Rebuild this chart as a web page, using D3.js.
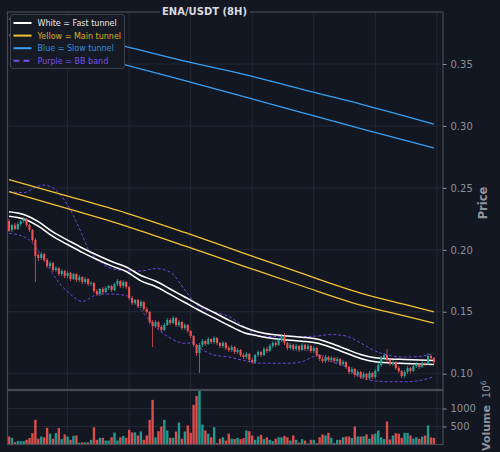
<!DOCTYPE html>
<html><head><meta charset="utf-8">
<script src="https://cdn.jsdelivr.net/npm/d3@7"></script>
<style>html,body{margin:0;padding:0;background:#131722;}svg{display:block;font-family:"DejaVu Sans",sans-serif;}</style>
</head><body><svg id="c" width="500" height="452"></svg>
<script>
// ---- data (ENA/USDT 8H candles, price in USDT, volume in millions) ----
const opens=[0.2232,0.2160,0.2200,0.2168,0.2208,0.2232,0.2249,0.2200,0.2160,0.2079,
0.1958,0.1934,0.1966,0.1918,0.1869,0.1893,0.1837,0.1853,0.1805,0.1829,
0.1789,0.1813,0.1764,0.1805,0.1756,0.1780,0.1740,0.1764,0.1724,0.1732,
0.1667,0.1643,0.1684,0.1659,0.1692,0.1708,0.1676,0.1724,0.1748,0.1708,
0.1740,0.1700,0.1611,0.1571,0.1595,0.1546,0.1579,0.1522,0.1498,0.1417,
0.1385,0.1417,0.1377,0.1353,0.1393,0.1433,0.1409,0.1450,0.1393,0.1417,
0.1369,0.1393,0.1345,0.1304,0.1232,0.1167,0.1232,0.1264,0.1240,0.1280,
0.1256,0.1288,0.1248,0.1224,0.1248,0.1207,0.1191,0.1215,0.1175,0.1191,
0.1151,0.1135,0.1159,0.1111,0.1094,0.1151,0.1175,0.1151,0.1199,0.1183,
0.1224,0.1248,0.1232,0.1272,0.1304,0.1248,0.1207,0.1232,0.1199,0.1224,
0.1191,0.1232,0.1199,0.1224,0.1183,0.1207,0.1151,0.1119,0.1102,0.1135,
0.1111,0.1127,0.1102,0.1119,0.1078,0.1094,0.1054,0.1014,0.1038,0.0990,
0.1014,0.0973,0.0998,0.0965,0.1006,0.0973,0.1022,0.1070,0.1127,0.1151,
0.1111,0.1078,0.1094,0.1046,0.1022,0.0981,0.1014,0.1046,0.1022,0.1062,
0.1078,0.1054,0.1086,0.1078,0.1143,0.1127];
const highs=[0.2249,0.2208,0.2216,0.2224,0.2241,0.2265,0.2257,0.2208,0.2168,0.2095,
0.1974,0.1982,0.1974,0.1934,0.1910,0.1902,0.1869,0.1861,0.1845,0.1837,
0.1829,0.1821,0.1813,0.1813,0.1797,0.1789,0.1780,0.1772,0.1748,0.1740,
0.1684,0.1692,0.1700,0.1708,0.1716,0.1716,0.1732,0.1764,0.1756,0.1756,
0.1748,0.1708,0.1627,0.1603,0.1603,0.1595,0.1587,0.1538,0.1506,0.1433,
0.1433,0.1425,0.1393,0.1409,0.1450,0.1450,0.1466,0.1458,0.1433,0.1425,
0.1409,0.1401,0.1353,0.1312,0.1240,0.1248,0.1280,0.1272,0.1296,0.1288,
0.1304,0.1296,0.1256,0.1264,0.1256,0.1224,0.1232,0.1224,0.1207,0.1199,
0.1167,0.1175,0.1167,0.1127,0.1159,0.1191,0.1183,0.1215,0.1215,0.1240,
0.1264,0.1264,0.1288,0.1320,0.1328,0.1256,0.1248,0.1240,0.1240,0.1232,
0.1248,0.1240,0.1240,0.1232,0.1224,0.1215,0.1159,0.1135,0.1151,0.1143,
0.1143,0.1135,0.1135,0.1127,0.1111,0.1102,0.1062,0.1054,0.1046,0.1030,
0.1022,0.1014,0.1006,0.1022,0.1014,0.1038,0.1086,0.1143,0.1167,0.1199,
0.1127,0.1111,0.1102,0.1062,0.1030,0.1030,0.1062,0.1054,0.1078,0.1094,
0.1086,0.1102,0.1094,0.1167,0.1151,0.1135];
const lows=[0.2144,0.2144,0.2160,0.2160,0.2192,0.2216,0.2184,0.2144,0.2063,0.1740,
0.1910,0.1918,0.1902,0.1853,0.1853,0.1821,0.1821,0.1789,0.1789,0.1772,
0.1772,0.1748,0.1756,0.1740,0.1740,0.1724,0.1724,0.1708,0.1708,0.1651,
0.1627,0.1627,0.1643,0.1651,0.1676,0.1659,0.1667,0.1708,0.1692,0.1692,
0.1684,0.1595,0.1554,0.1554,0.1530,0.1530,0.1506,0.1482,0.1401,0.1215,
0.1369,0.1361,0.1337,0.1345,0.1385,0.1393,0.1401,0.1377,0.1377,0.1353,
0.1353,0.1328,0.1288,0.1215,0.1143,0.1006,0.1215,0.1224,0.1232,0.1240,
0.1240,0.1232,0.1207,0.1207,0.1191,0.1175,0.1175,0.1159,0.1159,0.1135,
0.1119,0.1119,0.1094,0.1078,0.1078,0.1135,0.1135,0.1143,0.1167,0.1175,
0.1207,0.1215,0.1224,0.1256,0.1232,0.1191,0.1191,0.1183,0.1183,0.1175,
0.1183,0.1183,0.1183,0.1167,0.1167,0.1135,0.1102,0.1086,0.1086,0.1094,
0.1094,0.1086,0.1086,0.1062,0.1062,0.1038,0.0998,0.0998,0.0973,0.0973,
0.0957,0.0957,0.0949,0.0949,0.0957,0.0957,0.1014,0.1054,0.1111,0.1094,
0.1062,0.1062,0.1030,0.1006,0.0965,0.0965,0.0998,0.1006,0.1014,0.1046,
0.1038,0.1046,0.1062,0.1070,0.1111,0.1078];
const closes=[0.2152,0.2200,0.2168,0.2208,0.2232,0.2249,0.2200,0.2160,0.2079,0.1950,
0.1934,0.1966,0.1918,0.1869,0.1893,0.1837,0.1853,0.1805,0.1829,0.1789,
0.1813,0.1764,0.1805,0.1756,0.1780,0.1740,0.1764,0.1724,0.1732,0.1667,
0.1643,0.1684,0.1659,0.1692,0.1708,0.1676,0.1724,0.1748,0.1708,0.1740,
0.1700,0.1611,0.1571,0.1595,0.1546,0.1579,0.1522,0.1498,0.1417,0.1385,
0.1417,0.1377,0.1353,0.1393,0.1433,0.1409,0.1450,0.1393,0.1417,0.1369,
0.1393,0.1345,0.1304,0.1232,0.1167,0.1232,0.1264,0.1240,0.1280,0.1256,
0.1288,0.1248,0.1224,0.1248,0.1207,0.1191,0.1215,0.1175,0.1191,0.1151,
0.1135,0.1159,0.1111,0.1094,0.1151,0.1175,0.1151,0.1199,0.1183,0.1224,
0.1248,0.1232,0.1272,0.1304,0.1248,0.1207,0.1232,0.1199,0.1224,0.1191,
0.1232,0.1199,0.1224,0.1183,0.1207,0.1151,0.1119,0.1102,0.1135,0.1111,
0.1127,0.1102,0.1119,0.1078,0.1094,0.1054,0.1014,0.1038,0.0990,0.1014,
0.0973,0.0998,0.0965,0.1006,0.0973,0.1022,0.1070,0.1127,0.1151,0.1111,
0.1078,0.1094,0.1046,0.1022,0.0981,0.1014,0.1046,0.1022,0.1062,0.1078,
0.1054,0.1086,0.1078,0.1143,0.1127,0.1094];
const volumes=[222,185,65,93,93,93,130,180,315,685,
160,220,200,463,300,160,315,455,150,280,
220,130,240,250,50,60,60,60,130,480,
130,185,185,110,110,200,330,110,200,240,
185,410,335,335,250,360,130,250,685,1240,
200,370,500,685,390,185,185,360,610,160,
360,530,325,1100,1350,1610,555,390,300,200,
480,40,160,200,110,300,160,150,185,150,
175,390,370,250,130,222,270,150,200,130,
93,160,200,200,240,200,110,250,130,55,
150,110,30,130,130,40,200,280,250,325,
185,40,130,130,200,222,222,180,500,222,
222,230,280,160,280,300,390,200,150,640,
140,250,315,300,185,325,325,250,160,200,
160,220,250,530,200,185];

// Tunnels / bands, read at sampled candle indices
const fastIdx=[0,5,10,15,20,25,30,35,40,45,50,55,60,65,70,75,80,85,90,95,100,105,110,115,120,125,130,135,140,145];
const fastUpper=[0.2308,0.2285,0.2227,0.2144,0.2079,0.2015,0.1958,0.1906,0.1861,0.1793,0.1748,0.1684,0.1619,0.1554,0.1494,0.1433,0.1377,0.1337,0.1316,0.1304,0.1294,0.1280,0.1244,0.1199,0.1155,0.1128,0.1119,0.1115,0.1111,0.1107];
const fastLower=[0.2272,0.2249,0.2191,0.2108,0.2043,0.1979,0.1922,0.1870,0.1825,0.1749,0.1704,0.1640,0.1575,0.1510,0.1450,0.1389,0.1333,0.1305,0.1284,0.1272,0.1262,0.1248,0.1212,0.1167,0.1123,0.1096,0.1087,0.1083,0.1079,0.1075];
const mainIdx=[0,20,40,60,80,100,120,135,145];
const mainUpper=[0.2567,0.2434,0.2297,0.2140,0.1974,0.1809,0.1651,0.1559,0.1500];
const mainLower=[0.2469,0.2333,0.2192,0.2031,0.1869,0.1708,0.1554,0.1466,0.1409];
const slowIdx=[0,20,40,60,82,100,120,145];
const slowUpper=[0.3865,0.3754,0.3641,0.3524,0.3407,0.3295,0.3177,0.3015];
const slowLower=[0.3734,0.3613,0.3492,0.3366,0.3225,0.3108,0.2979,0.2822];
const bbUpperIdx=[0,5,10,12,15,20,25,27,30,35,40,45,50,55,60,65,70,75,80,85,90,95,100,105,110,115,120,125,130,135,140,145];
const bbUpper=[0.2469,0.2462,0.2515,0.2523,0.2499,0.2362,0.2119,0.2006,0.1926,0.1849,0.1833,0.1829,0.1849,0.1821,0.1676,0.1538,0.1498,0.1462,0.1385,0.1308,0.1300,0.1304,0.1300,0.1304,0.1316,0.1304,0.1248,0.1183,0.1147,0.1135,0.1139,0.1163];
const bbLowerIdx=[0,5,8,10,13,15,18,20,25,28,30,35,40,43,45,50,55,60,63,65,70,75,80,85,90,95,100,104,106,110,115,118,120,125,130,135,140,145];
const bbLower=[0.2133,0.2107,0.2055,0.1990,0.1885,0.1805,0.1708,0.1663,0.1583,0.1615,0.1643,0.1643,0.1631,0.1571,0.1514,0.1377,0.1288,0.1245,0.1252,0.1211,0.1151,0.1135,0.1107,0.1086,0.1084,0.1084,0.1097,0.1139,0.1151,0.1097,0.1054,0.0998,0.0973,0.0941,0.0935,0.0935,0.0944,0.0976];

const priceTicks=[0.10,0.15,0.20,0.25,0.30,0.35];
const volTicks=[500,1000];
const timeTicks=[20,41,62,83,104,125,146];
const title="ENA/USDT (8H)";
const legendItems=[
 {label:"White = Fast tunnel",color:"#ffffff",text:"#ececec",dash:null},
 {label:"Yellow = Main tunnel",color:"#f2c232",text:"#dcae2c",dash:null},
 {label:"Blue = Slow tunnel",color:"#3a9ff0",text:"#3a8fd9",dash:null},
 {label:"Purple = BB band",color:"#7a4fe8",text:"#7a4fe0",dash:"6,4"}];

// ---- layout ----
const BG="#131722", GRID="#232835", SPINE="#454a55", TXT="#8b909a";
const L=7.5,R=443,T=12,B=389.5,VT=390.5,VB=444.5;
const svg=d3.select("#c");
const x=d3.scaleLinear().domain([-0.58,148.1]).range([7.3,443]);
const y=d3.scaleLinear().domain([0.0874,0.3920]).range([389.3,12]);
const vy=d3.scaleLinear().domain([0,1500]).range([VB,VT]);
const idx=d3.range(closes.length);

svg.append("rect").attr("width",500).attr("height",452).attr("fill",BG);
const defs=svg.append("defs");
defs.append("clipPath").attr("id","cm").append("rect").attr("x",L).attr("y",T).attr("width",R-L).attr("height",B-T);
defs.append("clipPath").attr("id","cv").append("rect").attr("x",L).attr("y",VT).attr("width",R-L).attr("height",VB-VT);

// grid
const g=svg.append("g").attr("stroke",GRID).attr("stroke-width",1);
priceTicks.forEach(t=>g.append("line").attr("x1",L).attr("x2",R).attr("y1",y(t)).attr("y2",y(t)));
volTicks.forEach(t=>g.append("line").attr("x1",L).attr("x2",R).attr("y1",vy(t)).attr("y2",vy(t)));
timeTicks.forEach(t=>{
  g.append("line").attr("x1",x(t)).attr("x2",x(t)).attr("y1",T).attr("y2",B);
  g.append("line").attr("x1",x(t)).attr("x2",x(t)).attr("y1",VT).attr("y2",VB);
});

// indicator lines
const main=svg.append("g").attr("clip-path","url(#cm)");
function path(ix,vals){return d3.line().x((d,k)=>x(ix[k])).y(d=>y(d)).curve(d3.curveMonotoneX)(vals);}
function draw(ix,vals,color,w,dash){
  const p=main.append("path").attr("d",path(ix,vals)).attr("fill","none").attr("stroke",color).attr("stroke-width",w);
  if(dash)p.attr("stroke-dasharray",dash);
}
draw(bbUpperIdx,bbUpper,"#6f45e0",1,"3,2");
draw(bbLowerIdx,bbLower,"#6f45e0",1,"3,2");
draw(slowIdx,slowUpper,"#3a9ff0",1.3);
draw(slowIdx,slowLower,"#3a9ff0",1.3);
draw(mainIdx,mainUpper,"#f2c232",1.3);
draw(mainIdx,mainLower,"#f2c232",1.3);
draw(fastIdx,fastUpper,"#ffffff",1.5);
draw(fastIdx,fastLower,"#ffffff",1.5);

// candles
const UP="#26a69a", DN="#ef5350";
const cg=main.append("g");
idx.forEach(i=>{
  const up=closes[i]>=opens[i];
  const col=up?UP:DN;
  const cx=x(i);
  cg.append("line").attr("x1",cx).attr("x2",cx).attr("y1",y(highs[i])).attr("y2",y(lows[i])).attr("stroke",col).attr("stroke-width",0.8);
  const y0=y(Math.max(opens[i],closes[i])), y1=y(Math.min(opens[i],closes[i]));
  cg.append("rect").attr("x",cx-1.05).attr("width",2.1).attr("y",y0).attr("height",Math.max(0.8,y1-y0)).attr("fill",col);
});

// volume
const vg=svg.append("g").attr("clip-path","url(#cv)");
idx.forEach(i=>{
  const col=closes[i]>=opens[i]?UP:DN;
  vg.append("rect").attr("x",x(i)-1.2).attr("width",2.4).attr("y",vy(volumes[i])).attr("height",VB-vy(volumes[i])).attr("fill",col).attr("opacity",0.9);
});

// spines
svg.append("rect").attr("x",L).attr("y",T).attr("width",R-L).attr("height",B-T).attr("fill","none").attr("stroke",SPINE).attr("stroke-width",1.2);
svg.append("rect").attr("x",L).attr("y",VT).attr("width",R-L).attr("height",VB-VT).attr("fill","none").attr("stroke",SPINE).attr("stroke-width",1.2);

// axes
function styleAxis(sel){
  sel.select(".domain").remove();
  sel.selectAll(".tick line").attr("stroke",TXT);
  sel.selectAll(".tick text").attr("fill",TXT).attr("font-size",10).attr("font-family","DejaVu Sans");
}
svg.append("g").attr("transform",`translate(${R},0)`)
  .call(d3.axisRight(y).tickValues(priceTicks).tickFormat(d3.format(".2f")).tickSize(3.5).tickPadding(4)).call(styleAxis);
svg.append("g").attr("transform",`translate(${R},0)`)
  .call(d3.axisRight(vy).tickValues(volTicks).tickFormat(d3.format("d")).tickSize(3.5).tickPadding(4)).call(styleAxis);

// labels
svg.append("text").attr("transform","translate(487,203) rotate(-90)").attr("text-anchor","middle")
  .attr("font-size",11.5).attr("font-weight","bold").attr("fill","#8f939d").text("Price");
svg.append("text").attr("transform","translate(490,428) rotate(-90)").attr("text-anchor","middle")
  .attr("font-size",11).attr("font-weight","bold").attr("fill","#8f939d").text("Volume");
const off=svg.append("text").attr("transform","translate(490,398.5) rotate(-90)").attr("text-anchor","start")
  .attr("font-size",10.5).attr("fill","#8f939d");
off.append("tspan").text("10");
off.append("tspan").attr("font-size",7.5).attr("dy",-4.5).text("6");

// title
svg.append("rect").attr("x",160).attr("y",9).attr("width",90).attr("height",6).attr("fill",BG);
svg.append("text").attr("x",204.5).attr("y",14.8).attr("text-anchor","middle").attr("font-size",10)
  .attr("font-weight","bold").attr("fill","#d8dbe0").text(title);

// legend
const lg=svg.append("g");
lg.append("rect").attr("x",10.5).attr("y",14.5).attr("width",114).attr("height",54).attr("rx",2.5)
  .attr("fill","#161a24").attr("stroke","#3b404b").attr("stroke-width",1);
legendItems.forEach((d,k)=>{
  const yy=23+k*12.6;
  const ln=lg.append("line").attr("x1",13.5).attr("x2",31.5).attr("y1",yy).attr("y2",yy).attr("stroke",d.color).attr("stroke-width",2);
  if(d.dash)ln.attr("stroke-dasharray",d.dash);
  lg.append("text").attr("x",37.5).attr("y",yy+2.9).attr("font-size",8).attr("fill",d.text).text(d.label);
});
</script></body></html>
